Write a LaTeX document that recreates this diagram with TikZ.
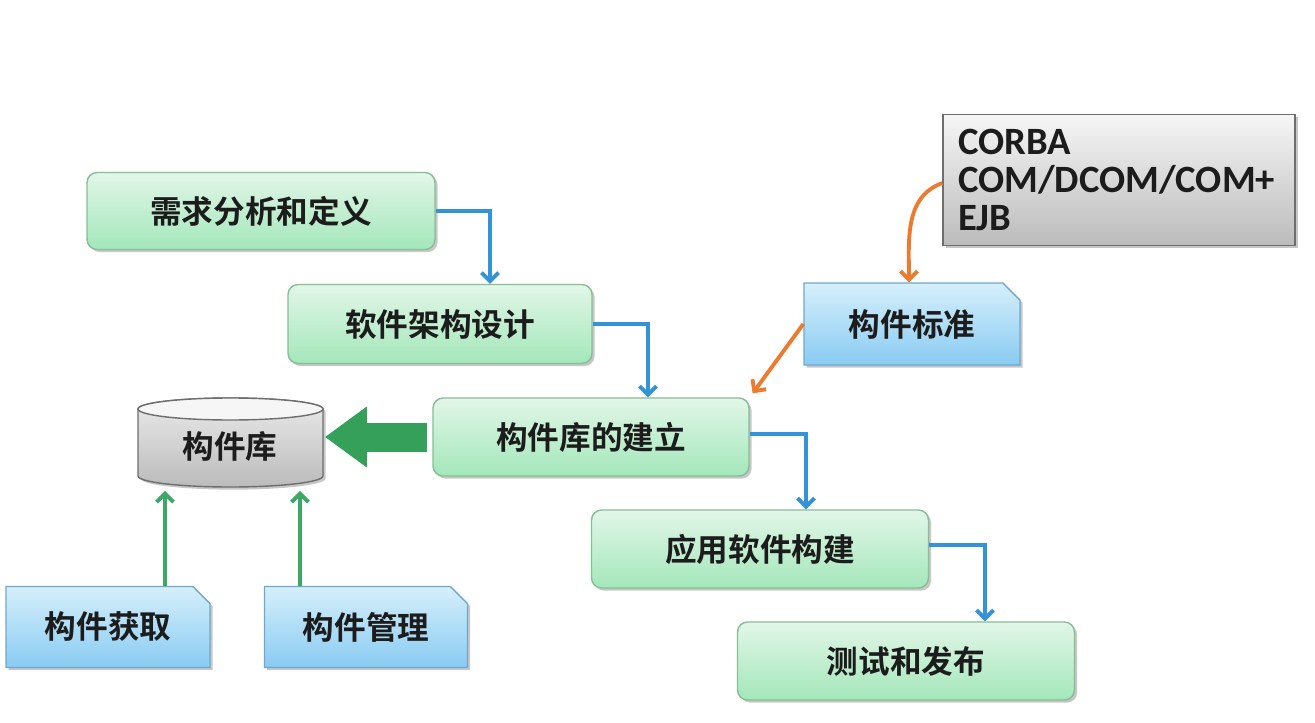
\documentclass[tikz,border=0pt]{standalone}
\usepackage{fontspec}
\newfontfamily\cjk{Noto Sans CJK SC Bold}
\newfontfamily\latb{Carlito}
\usetikzlibrary{arrows.meta,shapes.misc,shadows,calc}
\definecolor{gtop}{HTML}{E2F6E8}
\definecolor{gbot}{HTML}{A3E7BA}
\definecolor{gborder}{HTML}{86BE96}
\definecolor{btop}{HTML}{D6EFFB}
\definecolor{bbot}{HTML}{89CBF2}
\definecolor{bborder}{HTML}{6FA8CC}
\definecolor{grtop}{HTML}{F6F6F6}
\definecolor{grbot}{HTML}{BBBBBB}
\definecolor{grborder}{HTML}{6E6E6E}
\definecolor{txt}{HTML}{1C1C1C}
\definecolor{bline}{HTML}{3393D8}
\definecolor{oline}{HTML}{EE7A30}
\definecolor{gline}{HTML}{3CA866}
\definecolor{gblock}{HTML}{35A05A}
\begin{document}
\begin{tikzpicture}[x=0.02cm,y=-0.02cm,
  boxshadow/.style={drop shadow={shadow xshift=1.5pt,shadow yshift=-1.5pt,opacity=0.22,fill=black}},
  greenbox/.style={rectangle,rounded corners=0.2cm,draw=gborder,line width=0.8pt,
    top color=gtop,bottom color=gbot,text=txt,font=\cjk\fontsize{18}{20}\selectfont,boxshadow},
  bluebox/.style={chamfered rectangle,chamfered rectangle corners=north east,
    chamfered rectangle xsep=0.24cm,draw=bborder,line width=0.8pt,
    top color=btop,bottom color=bbot,text=txt,font=\cjk\fontsize{18}{20}\selectfont,boxshadow},
  graybox/.style={rectangle,draw=grborder,line width=0.8pt,top color=grtop,bottom color=grbot,
    text=txt,font=\latb\bfseries\fontsize{22}{21.5}\selectfont,boxshadow},
  tip/.style={-{Straight Barb[length=0.17cm,width=0.34cm]}},
  barrow/.style={draw=bline,line width=2.2pt,tip},
  oarrow/.style={draw=oline,line width=2.2pt,tip},
  garrow/.style={draw=gline,line width=2.2pt,tip},
  bigarrow/.style={draw=gblock,line width=0.58cm,-{Triangle[length=0.84cm,width=1.16cm]}}
]
\useasboundingbox (0,0) rectangle (1315,723);
\fill[white] (0,0) rectangle (1315,723);

% cylinder (component library)
\path[draw=grborder,line width=0.8pt,top color=grtop!90!gray,bottom color=grbot,
  drop shadow={shadow xshift=1.5pt,shadow yshift=-1.5pt,opacity=0.22,fill=black}]
  (138,409) -- (138,476) arc[start angle=180,end angle=0,x radius=92.5,y radius=11]
  -- (323,409) arc[start angle=360,end angle=180,x radius=92.5,y radius=11] -- cycle;
\draw[draw=grborder,line width=0.8pt,fill=grtop] (230.5,409) ellipse[x radius=92.5,y radius=11];
\node[text=txt,font=\cjk\fontsize{18}{20}\selectfont,minimum width=3.7cm,minimum height=1.78cm] (db) at (230,446) {构件库};

% process boxes
\node[greenbox,minimum width=6.96cm,minimum height=1.54cm] (req) at (261,211) {需求分析和定义};
\node[greenbox,minimum width=6.08cm,minimum height=1.58cm] (arch) at (440,324) {软件架构设计};
\node[greenbox,minimum width=6.32cm,minimum height=1.56cm] (build) at (591,437) {构件库的建立};
\node[greenbox,minimum width=6.74cm,minimum height=1.56cm] (app) at (760,549) {应用软件构建};
\node[greenbox,minimum width=6.74cm,minimum height=1.56cm] (test) at (906,661) {测试和发布};

% blue boxes
\node[bluebox,minimum width=4.32cm,minimum height=1.64cm] (std) at (912,324) {构件标准};
\node[bluebox,minimum width=4.08cm,minimum height=1.62cm] (get) at (108,627) {构件获取};
\node[bluebox,minimum width=4.06cm,minimum height=1.62cm] (mgmt) at (366,627) {构件管理};

% gray box
\node[graybox,minimum width=7.04cm,minimum height=2.6cm,text width=6.44cm,align=left,inner sep=0.3cm]
  (tech) at (1119,180) {CORBA\\COM/DCOM/COM+\\EJB};

% blue flow connectors
\draw[barrow] (req.east) -| ([xshift=1cm]arch.north);
\draw[barrow] (arch.east) -| ([xshift=1.14cm]build.north);
\draw[barrow] ([yshift=0.06cm]build.east) -| ([xshift=0.92cm]app.north);
\draw[barrow] ([yshift=0.08cm]app.east) -| ([xshift=1.58cm]test.north);

% orange connectors
\draw[oarrow] ([yshift=-0.06cm]tech.west) to[out=200,in=90] ([xshift=-0.06cm]std.north);
\draw[oarrow] (std.west) -- ([xshift=0.06cm,yshift=0.08cm]build.north east);

% big green arrow into library
\draw[bigarrow] ([xshift=-0.1cm]build.west) -- ([xshift=0.04cm]db.east |- build.west);

% green arrows from acquisition / management
\draw[garrow] ([xshift=1.14cm]get.north) -- ([xshift=1.14cm]get.north |- db.south);
\draw[garrow] ([xshift=-1.32cm]mgmt.north) -- ([xshift=-1.32cm]mgmt.north |- db.south);
\end{tikzpicture}
\end{document}
